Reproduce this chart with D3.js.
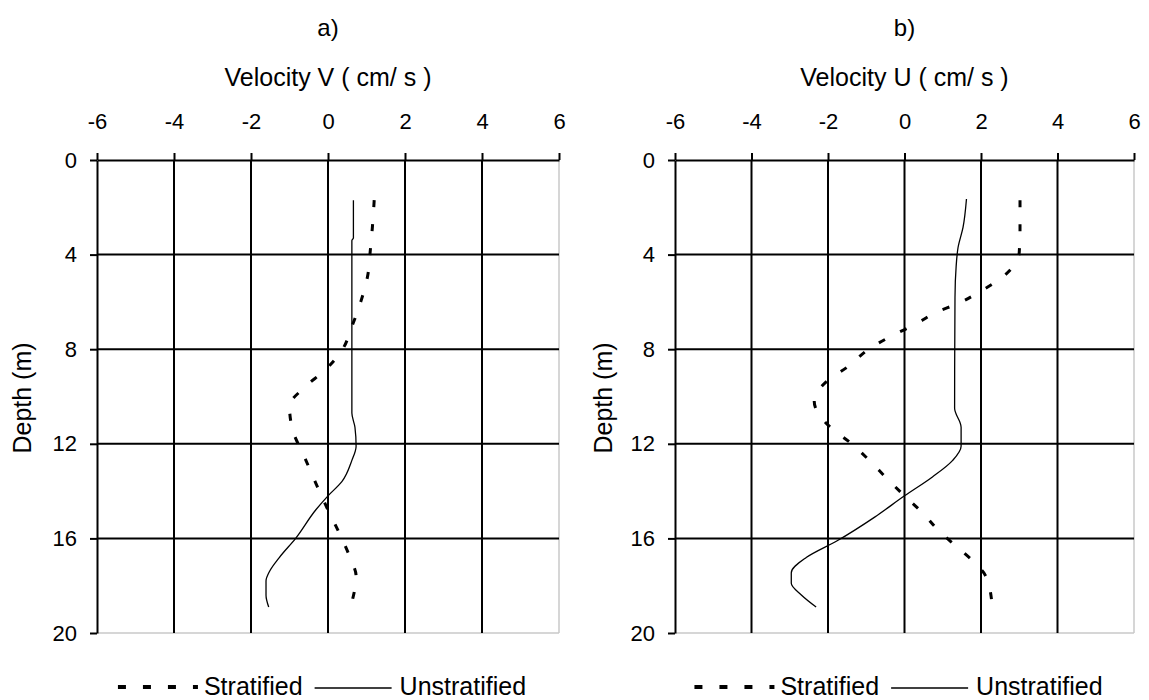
<!DOCTYPE html>
<html>
<head>
<meta charset="utf-8">
<script src="https://cdn.jsdelivr.net/npm/d3@7"></script>
<style>
  html, body { margin: 0; padding: 0; background: #ffffff; }
  svg { display: block; }
  text { font-family: "Liberation Sans", Arial, sans-serif; fill: #000; }
</style>
</head>
<body>
<svg id="chart" width="1149" height="700"></svg>
<script>
// Axis ticks
const velocityTicks = [-6, -4, -2, 0, 2, 4, 6];
const depthTicks = [0, 4, 8, 12, 16, 20];

// Panel a) : velocity V profiles (cm/s) against depth (m)
const vStratifiedDepth = [1.7, 2.9, 3.8, 4.9, 6.0, 7.0, 8.05, 8.9, 9.6, 10.4, 11.4, 12.6, 13.8, 14.8, 15.8, 16.8, 17.6, 18.7];
const vStratifiedVel   = [1.2, 1.15, 1.1, 1.03, 0.85, 0.63, 0.36, -0.09, -0.6, -1.0, -0.92, -0.6, -0.28, 0.0, 0.3, 0.57, 0.73, 0.62];
const vUnstratifiedDepth = [1.7, 3.3, 3.4, 10.7, 11.3, 12.1, 12.7, 13.6, 14.2, 14.8, 16.0, 16.8, 17.4, 17.8, 18.4, 18.9];
const vUnstratifiedVel   = [0.66, 0.66, 0.62, 0.62, 0.70, 0.73, 0.62, 0.36, 0.0, -0.32, -0.84, -1.26, -1.52, -1.61, -1.61, -1.54];

// Panel b) : velocity U profiles (cm/s) against depth (m)
const uStratifiedDepth = [1.7, 2.9, 3.9, 4.9, 5.55, 6.05, 6.45, 6.95, 7.4, 7.95, 8.75, 9.35, 10.2, 11.3, 11.95, 12.7, 13.5, 14.2, 14.9, 15.7, 16.4, 17.1, 17.55, 18.65];
const uStratifiedVel   = [3.02, 3.02, 3.0, 2.6, 1.99, 1.42, 0.82, 0.28, -0.29, -0.89, -1.49, -2.03, -2.36, -1.94, -1.42, -0.92, -0.44, 0.0, 0.46, 0.91, 1.40, 1.88, 2.11, 2.28];
const uUnstratifiedDepth = [1.65, 2.85, 3.7, 4.5, 5.8, 10.5, 11.3, 12.1, 12.7, 13.4, 14.2, 15.1, 16.1, 16.8, 17.45, 17.9, 18.4, 18.9];
const uUnstratifiedVel   = [1.62, 1.53, 1.40, 1.35, 1.32, 1.31, 1.48, 1.48, 1.26, 0.73, 0.0, -0.78, -1.76, -2.56, -2.96, -2.96, -2.69, -2.31];

const panelLabels = ["a)", "b)"];
const axisTitles = ["Velocity V ( cm/ s )", "Velocity U ( cm/ s )"];
const depthTitle = "Depth (m)";
const legendNames = ["Stratified", "Unstratified"];

const zip = (d, v) => d.map((dep, i) => ({ depth: dep, vel: v[i] }));

const panels = [
  { left: 97, right: 559, depthTitleX: 22, label: panelLabels[0], title: axisTitles[0],
    strat: zip(vStratifiedDepth, vStratifiedVel), unstrat: zip(vUnstratifiedDepth, vUnstratifiedVel) },
  { left: 675, right: 1134, depthTitleX: 603, label: panelLabels[1], title: axisTitles[1],
    strat: zip(uStratifiedDepth, uStratifiedVel), unstrat: zip(uUnstratifiedDepth, uUnstratifiedVel) }
];

const plotTop = 160, plotBottom = 633;
const svg = d3.select("#chart");
svg.append("rect").attr("width", 1149).attr("height", 700).attr("fill", "#ffffff");

const DASH = "7,17";
// plain hyphen-minus for negative tick values
const tickText = d => String(d);

panels.forEach(p => {
  const x = d3.scaleLinear().domain([-6, 6]).range([p.left, p.right]);
  const y = d3.scaleLinear().domain([0, 20]).range([plotTop, plotBottom]);
  const g = svg.append("g");
  const cx = (p.left + p.right) / 2;

  // plot frame: light right and bottom edges
  g.append("line").attr("x1", p.right).attr("x2", p.right).attr("y1", plotTop).attr("y2", plotBottom)
    .attr("stroke", "#c8c8c8").attr("stroke-width", 1.5);
  g.append("line").attr("x1", p.left).attr("x2", p.right).attr("y1", plotBottom).attr("y2", plotBottom)
    .attr("stroke", "#c8c8c8").attr("stroke-width", 1.5);

  // gridlines
  g.selectAll(".vgrid").data(velocityTicks.filter(t => t > -6 && t < 6)).join("line")
    .attr("x1", d => x(d)).attr("x2", d => x(d)).attr("y1", plotTop).attr("y2", plotBottom)
    .attr("stroke", "#000").attr("stroke-width", 2);
  g.selectAll(".hgrid").data(depthTicks.filter(t => t > 0 && t < 20)).join("line")
    .attr("x1", p.left).attr("x2", p.right).attr("y1", d => y(d)).attr("y2", d => y(d))
    .attr("stroke", "#000").attr("stroke-width", 2);

  // top (velocity) axis
  const ax = g.append("g").attr("transform", `translate(0,${plotTop})`)
    .call(d3.axisTop(x).tickValues(velocityTicks).tickSizeInner(7).tickSizeOuter(0).tickPadding(24)
      .tickFormat(tickText));
  ax.select(".domain").attr("stroke", "#000").attr("stroke-width", 2);
  ax.selectAll(".tick line").attr("stroke", "#000").attr("stroke-width", 2);
  ax.selectAll(".tick text").attr("font-size", 22).attr("font-family", "Liberation Sans, Arial, sans-serif")
    .attr("fill", "#000");

  // left (depth) axis
  const ay = g.append("g").attr("transform", `translate(${p.left},0)`)
    .call(d3.axisLeft(y).tickValues(depthTicks).tickSizeInner(7).tickSizeOuter(0).tickPadding(13)
      .tickFormat(tickText));
  ay.select(".domain").attr("stroke", "#000").attr("stroke-width", 2);
  ay.selectAll(".tick line").attr("stroke", "#000").attr("stroke-width", 2);
  ay.selectAll(".tick text").attr("font-size", 22).attr("font-family", "Liberation Sans, Arial, sans-serif")
    .attr("fill", "#000");

  // titles
  g.append("text").attr("x", cx).attr("y", 36).attr("text-anchor", "middle").attr("font-size", 24).text(p.label);
  g.append("text").attr("x", cx).attr("y", 86).attr("text-anchor", "middle").attr("font-size", 25).text(p.title);
  g.append("text").attr("transform", `translate(${p.depthTitleX + 9},398) rotate(-90)`)
    .attr("text-anchor", "middle").attr("font-size", 25).text(depthTitle);

  // profiles
  const line = d3.line().x(d => x(d.vel)).y(d => y(d.depth)).curve(d3.curveMonotoneY);
  g.append("path").attr("d", line(p.strat)).attr("fill", "none").attr("stroke", "#000")
    .attr("stroke-width", 3).attr("stroke-dasharray", DASH);
  g.append("path").attr("d", line(p.unstrat)).attr("fill", "none").attr("stroke", "#000")
    .attr("stroke-width", 1.3);

  // legend
  const lg = g.append("g").attr("transform", `translate(0,695)`);
  const t1 = lg.append("text").attr("font-size", 25).text(legendNames[0]);
  const t2 = lg.append("text").attr("font-size", 25).text(legendNames[1]);
  const w1 = t1.node().getComputedTextLength();
  const w2 = t2.node().getComputedTextLength();
  const dashW = 80, gap = 6, lineW = 77;
  const total = dashW + gap + w1 + 12 + lineW + 8 + w2;
  let lx = cx - 6 - total / 2;
  lg.append("line").attr("x1", lx).attr("x2", lx + dashW).attr("y1", -8).attr("y2", -8)
    .attr("stroke", "#000").attr("stroke-width", 4).attr("stroke-dasharray", "8,17");
  lx += dashW + gap;
  t1.attr("x", lx);
  lx += w1 + 12;
  lg.append("line").attr("x1", lx).attr("x2", lx + lineW).attr("y1", -7).attr("y2", -7)
    .attr("stroke", "#000").attr("stroke-width", 1.5);
  lx += lineW + 8;
  t2.attr("x", lx);
});
</script>
</body>
</html>
